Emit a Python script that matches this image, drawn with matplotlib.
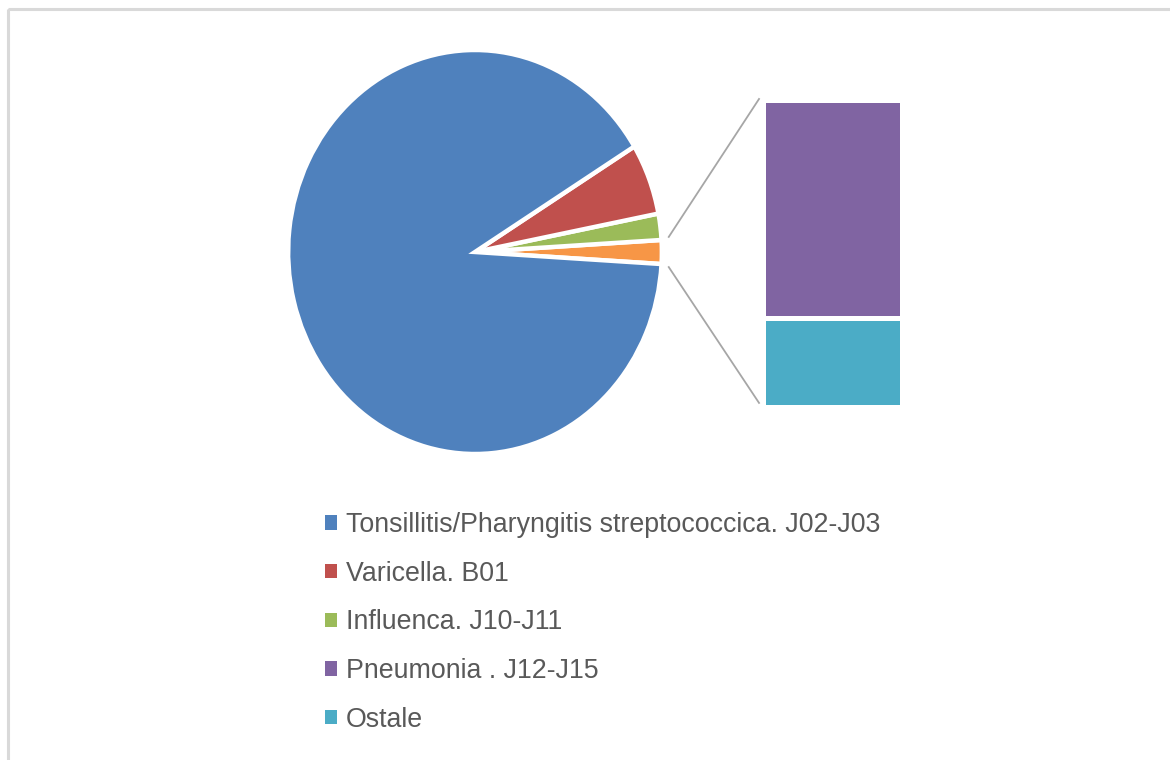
import numpy as np
import matplotlib
matplotlib.use('Agg')
import matplotlib.pyplot as plt
from matplotlib.patches import Patch, Rectangle

categories = ["Tonsillitis/Pharyngitis streptococcica. J02-J03", "Varicella. B01",
              "Influenca. J10-J11", "Pneumonia . J12-J15", "Ostale"]
values = [90.3, 5.7, 2.1, 1.35, 0.55]
colors = ["#4F81BD", "#C0504D", "#9BBB59", "#8064A2", "#4BACC6"]
other_color = "#F79646"

W, H = 1170, 760
fig = plt.figure(figsize=(W / 100, H / 100), dpi=100)


def px(x0, y0, x1, y1):
    return [x0 / W, 1 - y1 / H, (x1 - x0) / W, (y1 - y0) / H]


# border / overlay axes in pixel coordinates
ax_bg = fig.add_axes([0, 0, 1, 1])
ax_bg.set_xlim(0, W)
ax_bg.set_ylim(H, 0)
ax_bg.axis('off')
ax_bg.add_patch(Rectangle((8, 9), W, H, fill=False, edgecolor='#D9D9D9', lw=2.2))

# pie
cx, cy, rx, ry = 475, 252, 185, 200
ax_pie = fig.add_axes(px(cx - rx, cy - ry, cx + rx, cy + ry))
other = values[3] + values[4]
pie_vals = [other, values[2], values[1], values[0]]
pie_cols = [other_color, colors[2], colors[1], colors[0]]
start = -other * 3.6 / 2
ax_pie.pie(pie_vals, colors=pie_cols, startangle=start, counterclock=True,
           radius=1.01, wedgeprops=dict(edgecolor='white', linewidth=3.2))
ax_pie.set_aspect('auto')
ax_pie.set_xlim(-1, 1)
ax_pie.set_ylim(-1, 1)
ax_pie.axis('off')

# bar of the "other" slice
ax_bar = fig.add_axes(px(762.5, 100.2, 901.5, 407.2))
ax_bar.bar([0], [values[4]], width=1, bottom=0, color=colors[4], edgecolor='white', linewidth=3.6)
ax_bar.bar([0], [values[3]], width=1, bottom=values[4], color=colors[3], edgecolor='white', linewidth=3.6)
ax_bar.set_xlim(-0.5, 0.5)
ax_bar.set_ylim(0, other)
ax_bar.axis('off')

# connector lines
a = np.deg2rad(other * 3.6 / 2 + 0.7)
inv = ax_bg.transData.inverted()
for sgn, yb in [(1, 1.004), (-1, 0.014)]:
    pA = inv.transform(ax_pie.transData.transform((1.05 * np.cos(a), sgn * 1.05 * np.sin(a))))
    pB = inv.transform(ax_bar.transAxes.transform((-0.025, yb)))
    ax_bg.plot([pA[0], pB[0]], [pA[1], pB[1]], color='#A6A6A6', lw=1.3, zorder=1)

# legend
handles = [Patch(facecolor=c, edgecolor='none') for c in colors]
fig.legend(handles, categories, loc='upper left', bbox_to_anchor=(325 / W, 1 - 512 / H),
           frameon=False, prop=dict(family=['Liberation Sans', 'DejaVu Sans'], size=19.3),
           handlelength=0.45, handleheight=0.45, handletextpad=0.32, labelspacing=0.845,
           borderpad=0, borderaxespad=0, labelcolor='#595959')

fig.savefig('out.png', dpi=100)
